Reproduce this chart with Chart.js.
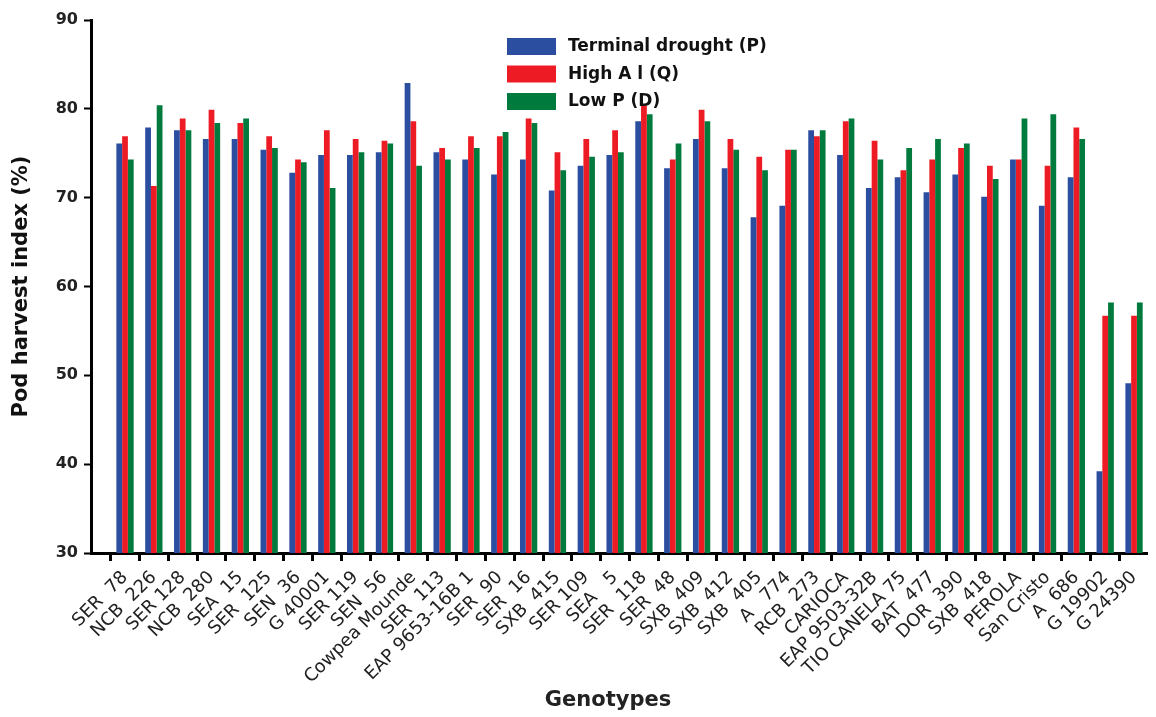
<!DOCTYPE html>
<html>
<head>
<meta charset="utf-8">
<script src="https://cdn.jsdelivr.net/npm/chart.js@4/dist/chart.umd.min.js"></script>
<style>
  html, body { margin: 0; padding: 0; background: #fff; }
  #wrap { width: 1156px; height: 717px; }
</style>
</head>
<body>
<div id="wrap"><canvas id="grafico" width="1156" height="717"></canvas></div>
<script>
// genotipos (eje X)
const genotypes = [
  'SER  78', 'NCB  226', 'SER 128', 'NCB  280', 'SEA  15', 'SER  125', 'SEN  36', 'G 40001',
  'SER 119', 'SEN  56', 'Cowpea Mounde', 'SER  113', 'EAP 9653-16B 1', 'SER  90', 'SER  16',
  'SXB  415', 'SER 109', 'SEA   5', 'SER  118', 'SER  48', 'SXB  409', 'SXB  412', 'SXB  405',
  'A   774', 'RCB  273', 'CARIOCA', 'EAP 9503-32B', 'TIO CANELA 75', 'BAT  477', 'DOR  390',
  'SXB  418', 'PEROLA', 'San Cristo', 'A  686', 'G 19902', 'G 24390'
];

// valores
const terminalDrought = [
  76.1, 77.9, 77.6, 76.6, 76.6, 75.4, 72.8, 74.8, 74.8, 75.1, 82.9, 75.1,
  74.3, 72.6, 74.3, 70.8, 73.6, 74.8, 78.6, 73.3, 76.6, 73.3, 67.8, 69.1,
  77.6, 74.8, 71.1, 72.3, 70.6, 72.6, 70.1, 74.3, 69.1, 72.3, 39.2, 49.1
];
const highAl = [
  76.9, 71.3, 78.9, 79.9, 78.4, 76.9, 74.3, 77.6, 76.6, 76.4, 78.6, 75.6,
  76.9, 76.9, 78.9, 75.1, 76.6, 77.6, 80.4, 74.3, 79.9, 76.6, 74.6, 75.4,
  76.9, 78.6, 76.4, 73.1, 74.3, 75.6, 73.6, 74.3, 73.6, 77.9, 56.7, 56.7
];
const lowP = [
  74.3, 80.4, 77.6, 78.4, 78.9, 75.6, 74.0, 71.1, 75.1, 76.1, 73.6, 74.3,
  75.6, 77.4, 78.4, 73.1, 74.6, 75.1, 79.4, 76.1, 78.6, 75.4, 73.1, 75.4,
  77.6, 78.9, 74.3, 75.6, 76.6, 76.1, 72.1, 78.9, 79.4, 76.6, 58.2, 58.2
];
const yTicks = [30, 40, 50, 60, 70, 80, 90];

const seriesLabels = ['Terminal drought (P)', 'High A l (Q)', 'Low P (D)'];
const seriesColors = ['#2b4ea1', '#ed1c24', '#007a3d'];

const toPoints = arr => arr.map((v, i) => ({x: i + 1, y: v}));

// leyenda dibujada dentro del área del gráfico
const legendInside = {
  id: 'legendInside',
  afterDraw(chart) {
    const c = chart.ctx;
    c.save();
    c.font = 'bold 17px "DejaVu Sans"';
    c.textBaseline = 'middle';
    chart.data.datasets.forEach((ds, i) => {
      const y = 38 + i * 27.5;
      c.fillStyle = ds.backgroundColor;
      c.fillRect(507, y, 49, 17);
      c.fillStyle = '#111';
      c.fillText(ds.label, 568, y + 9);
    });
    c.restore();
  }
};

const ctx = document.getElementById('grafico').getContext('2d');

const myChart = new Chart(ctx, {
  type: 'bar',
  data: {
    datasets: [
      {label: seriesLabels[0], data: toPoints(terminalDrought), backgroundColor: seriesColors[0]},
      {label: seriesLabels[1], data: toPoints(highAl), backgroundColor: seriesColors[1]},
      {label: seriesLabels[2], data: toPoints(lowP), backgroundColor: seriesColors[2]}
    ]
  },
  options: {
    responsive: false,
    animation: false,
    layout: {padding: {left: 0, right: 9, top: 20, bottom: 0}},
    datasets: {
      bar: {categoryPercentage: 0.6, barPercentage: 1.0, borderWidth: 0}
    },
    plugins: {
      legend: {display: false},
      tooltip: {enabled: false}
    },
    scales: {
      x: {
        type: 'linear',
        min: -0.18,
        max: 36.45,
        offset: false,
        afterBuildTicks: scale => {
          scale.ticks = genotypes.map((g, i) => ({value: i + 1}));
        },
        afterFit: scale => { scale.height = 164; },
        grid: {display: true, drawOnChartArea: false, drawTicks: true, tickLength: 8, tickWidth: 3, tickColor: '#000'},
        border: {display: true, color: '#000', width: 3},
        ticks: {
          autoSkip: false,
          minRotation: 45,
          maxRotation: 45,
          padding: 6,
          color: '#222',
          font: {family: 'DejaVu Sans', size: 18},
          callback: value => genotypes[value - 1] ?? ''
        },
        title: {
          display: true,
          text: 'Genotypes   ',
          color: '#222',
          font: {family: 'DejaVu Sans', size: 21, weight: 'bold'},
          padding: {top: 0, bottom: 4}
        }
      },
      y: {
        min: 30,
        max: 90,
        afterBuildTicks: scale => {
          scale.ticks = yTicks.map(v => ({value: v}));
        },
        afterFit: scale => { scale.width = 91; },
        grid: {display: true, drawOnChartArea: false, drawTicks: true, tickLength: 7, tickWidth: 2, tickColor: '#000'},
        border: {display: true, color: '#000', width: 3},
        ticks: {
          padding: 6,
          color: '#222',
          font: {family: 'DejaVu Sans', size: 16, weight: 'bold'}
        },
        title: {
          display: true,
          text: 'Pod harvest index (%)',
          color: '#111',
          font: {family: 'DejaVu Sans', size: 21, weight: 'bold'},
          padding: {top: 9, bottom: 0}
        }
      }
    }
  },
  plugins: [legendInside]
});
</script>
</body>
</html>
